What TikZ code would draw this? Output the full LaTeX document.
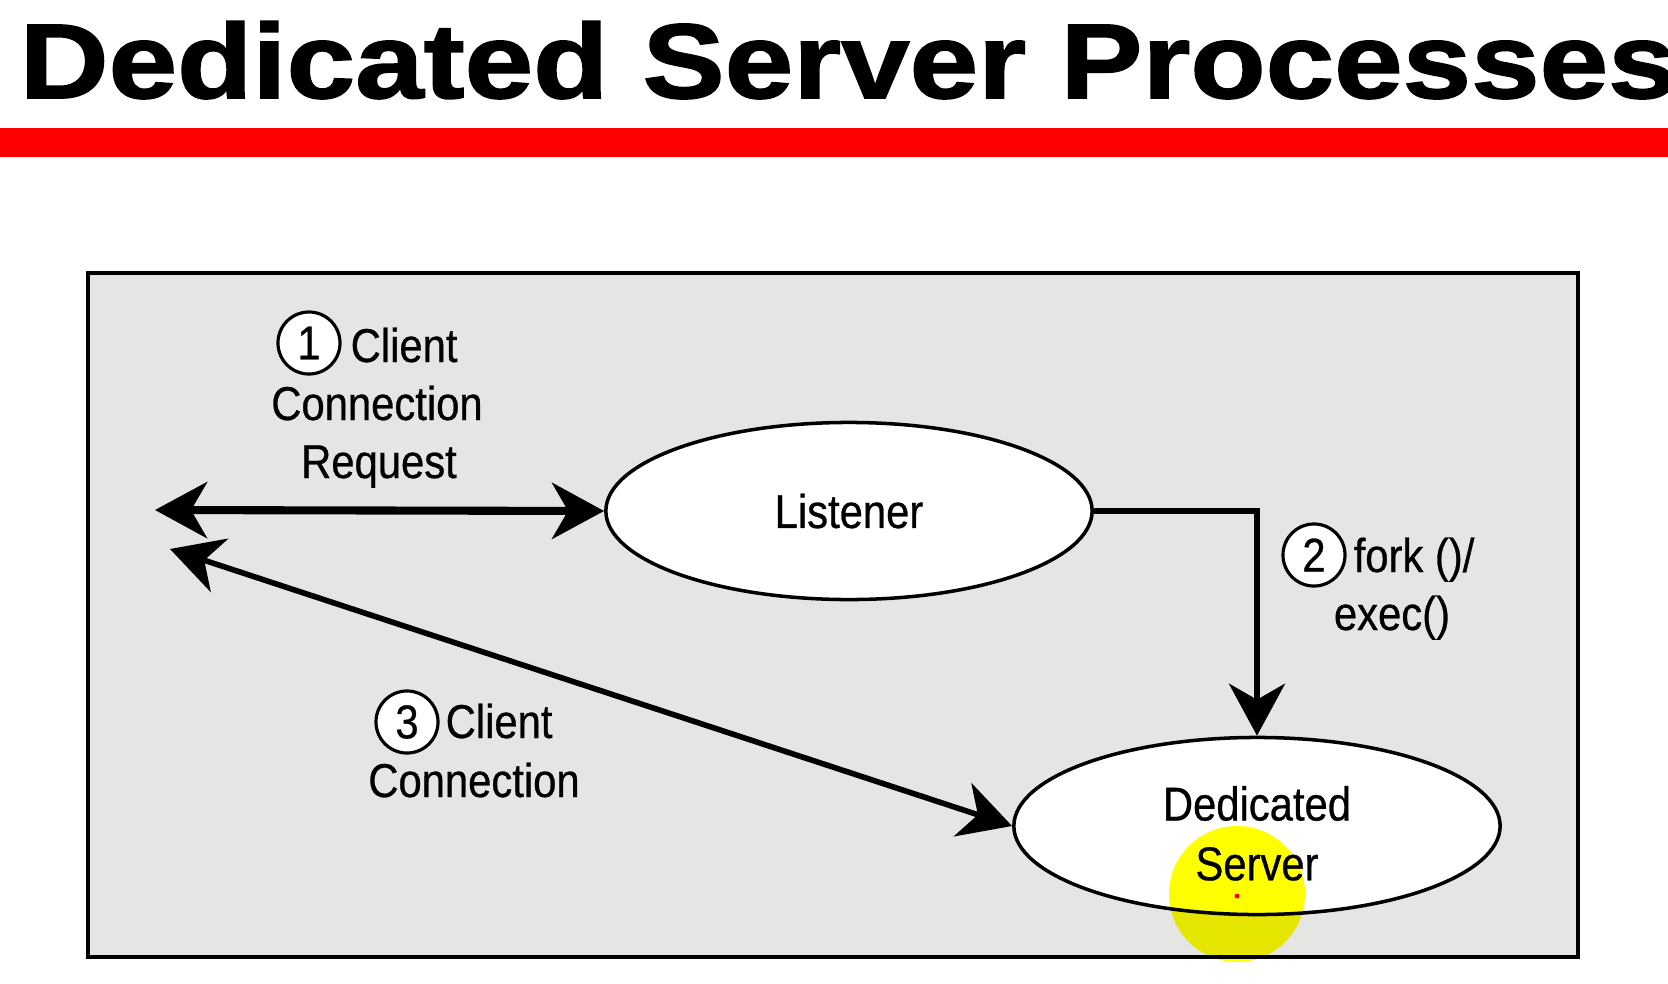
\documentclass[tikz,border=0pt]{standalone}
\usepackage{fontspec}
\setmainfont{Liberation Sans}
\newfontfamily\titlefont[FakeStretch=1.16,FakeBold=1.5]{Liberation Sans Bold}
\newfontfamily\lblfont[FakeStretch=0.88,FakeBold=0.6]{Liberation Sans}
\usetikzlibrary{arrows.meta,shapes.geometric}
\definecolor{boxgray}{RGB}{229,230,228}
\definecolor{hilite}{RGB}{255,255,0}
\begin{document}
\begin{tikzpicture}[x=0.01cm,y=-0.01cm,
	bigtip/.tip={Stealth[length=5.2mm,width=5.6mm,inset=1.6mm]},
	lbl/.style={font=\lblfont\fontsize{13.5}{17}\selectfont,inner sep=0pt},
	proc/.style={ellipse,draw,line width=1pt,fill=white,minimum width=4.86cm,minimum height=1.77cm,align=center,lbl},
	num/.style={circle,draw,line width=0.9pt,fill=white,minimum size=0.62cm,lbl},
	link/.style={line width=1.6pt,-bigtip}]
	\useasboundingbox (0,0) rectangle (1668,984);
	\clip (0,0) rectangle (1668,984);
	\fill[white] (0,0) rectangle (1668,984);
	% title and red rule
	\node[anchor=base west,inner sep=0pt,font=\titlefont\fontsize{30.2}{36}\selectfont] (title) at (19,98) {Dedicated Server Processes};
	\fill[red] (0,128) rectangle (1668,157);
	% frame
	\draw[line width=1.4pt,fill=boxgray] (88,273) rectangle (1578,957);
	% processes
	\node[proc] (listener) at (849,511) {Listener};
	\node[proc] (server) at (1257,826) {\rule{0pt}{14pt}Dedicated\\Server};
	% client side ends
	\coordinate (reqend) at (155,510);
	\coordinate (connend) at (170,549);
	% connectors
	\draw[link,line width=2.3pt,bigtip-bigtip] (reqend) -- (listener.west);
	\draw[link] (listener.east) -| (server.north);
	\draw[link,bigtip-bigtip] (connend) -- (server.west);
	% step labels
	\node[num] (n1) at (309,343) {1};
	\node[lbl,anchor=base west] (c1) at (350,362) {Client};
	\node[lbl,anchor=base] (c1b) at (377,420) {Connection};
	\node[lbl,anchor=base] (c1c) at (379,478) {Request};
	\node[num] (n2) at (1314,555) {2};
	\node[lbl,anchor=base west] (f2) at (1353,572) {fork ()/};
	\node[lbl,anchor=base] (f2b) at (1392,630) {exec()};
	\node[num] (n3) at (407,722) {3};
	\node[lbl,anchor=base west] (c3) at (445,738) {Client};
	\node[lbl,anchor=base] (c3b) at (474,797) {Connection};
	% pointer highlight
	\fill[hilite,blend mode=multiply] (1237,894) circle (68);
	\fill[red] (1237,896) circle (2.5);
\end{tikzpicture}
\end{document}
